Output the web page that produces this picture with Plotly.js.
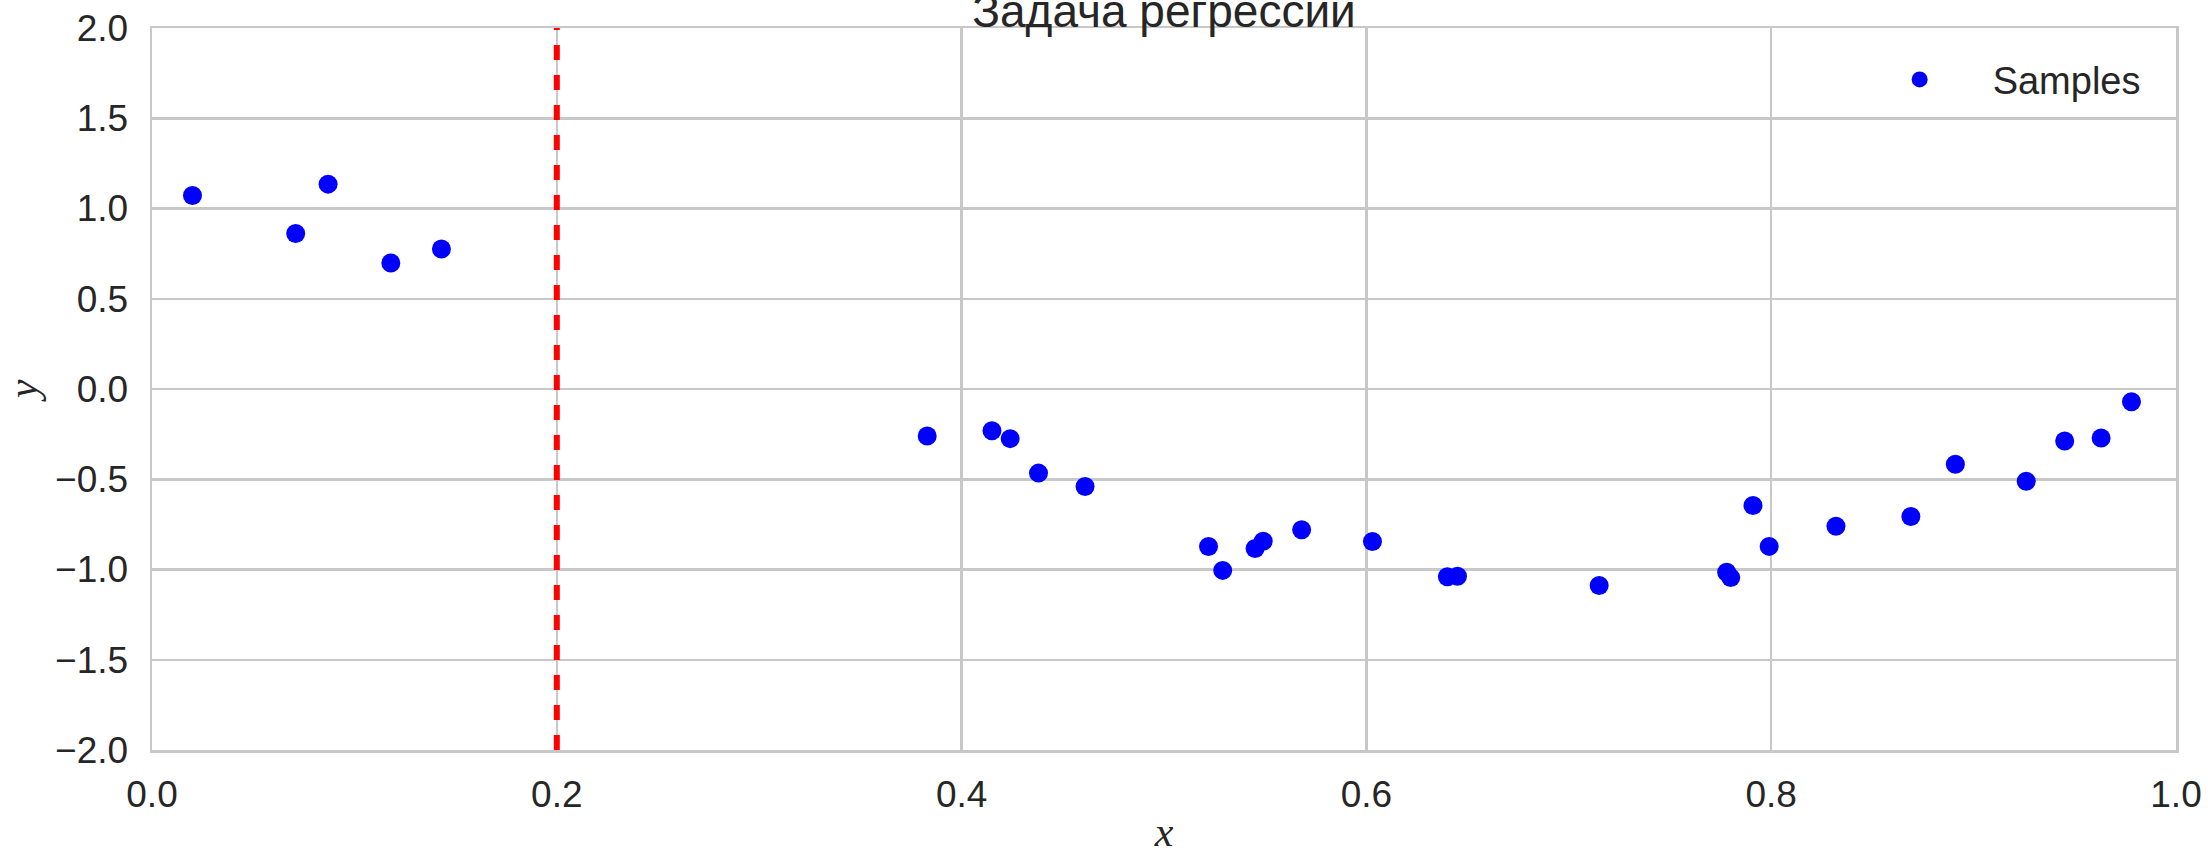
<!DOCTYPE html>
<html>
<head>
<meta charset="utf-8">
<script src="https://cdn.plot.ly/plotly-3.0.1.min.js"></script>
<style>html,body{margin:0;padding:0;background:#fff;}#chart{width:2208px;height:855px;}</style>
</head>
<body>
<div id="chart"></div>
<script>
const sampleX = [0.020, 0.071, 0.087, 0.118, 0.143, 0.383, 0.415, 0.424, 0.438, 0.461,
  0.522, 0.529, 0.545, 0.549, 0.568, 0.603, 0.640, 0.645, 0.715, 0.778,
  0.780, 0.791, 0.799, 0.832, 0.869, 0.891, 0.926, 0.945, 0.963, 0.978];
const sampleY = [1.072, 0.862, 1.135, 0.698, 0.776, -0.260, -0.231, -0.275, -0.466, -0.540,
  -0.873, -1.005, -0.884, -0.843, -0.780, -0.845, -1.040, -1.037, -1.089, -1.015,
  -1.045, -0.645, -0.872, -0.760, -0.706, -0.417, -0.511, -0.288, -0.271, -0.071];
const thresholdX = [0.2];
const xTickVals = [0.0, 0.2, 0.4, 0.6, 0.8, 1.0];
const xTickText = ["0.0", "0.2", "0.4", "0.6", "0.8", "1.0"];
const yTickVals = [-2.0, -1.5, -1.0, -0.5, 0.0, 0.5, 1.0, 1.5, 2.0];
const yTickText = ["\u22122.0", "\u22121.5", "\u22121.0", "\u22120.5", "0.0", "0.5", "1.0", "1.5", "2.0"];
const titleText = "Задача регрессии";
const seriesName = "Samples";

const textColor = "#262626";
const gridColor = "#c8c8c8";
const tickFont = {family: "Liberation Sans, Arial, sans-serif", size: 37, color: textColor};

const data = [{
  type: "scatter",
  mode: "markers",
  x: sampleX,
  y: sampleY,
  name: seriesName,
  marker: {color: "#0000ff", size: 19, line: {width: 0}},
  showlegend: true
}];

const layout = {
  width: 2208,
  height: 855,
  paper_bgcolor: "#ffffff",
  plot_bgcolor: "#ffffff",
  margin: {l: 152, r: 32, t: 28, b: 105, pad: 0},
  title: {
    text: titleText,
    font: {family: "Liberation Sans, Arial, sans-serif", size: 46, color: textColor},
    x: 0.5, xref: "paper", xanchor: "center",
    y: 0.968, yref: "container", yanchor: "bottom"
  },
  xaxis: {
    range: [0, 1],
    tickvals: xTickVals, ticktext: xTickText,
    tickfont: tickFont,
    ticks: "", ticklabelstandoff: 10,
    showgrid: true, gridcolor: gridColor, gridwidth: 2.5,
    zeroline: false,
    showline: true, linecolor: gridColor, linewidth: 2.5, mirror: true,
    title: {text: "<i>x</i>", font: {family: "Liberation Serif, DejaVu Serif, serif", size: 42, color: textColor}, standoff: 24},
    fixedrange: true
  },
  yaxis: {
    range: [-2, 2],
    tickvals: yTickVals, ticktext: yTickText,
    tickfont: tickFont,
    ticks: "", ticklabelstandoff: 14,
    showgrid: true, gridcolor: gridColor, gridwidth: 2.5,
    zeroline: false,
    showline: true, linecolor: gridColor, linewidth: 2.5, mirror: true,
    title: {text: "<i>y</i>", font: {family: "Liberation Serif, DejaVu Serif, serif", size: 42, color: textColor}, standoff: 12},
    fixedrange: true
  },
  showlegend: true,
  legend: {
    x: 0.985, y: 0.972, xanchor: "right", yanchor: "top",
    bgcolor: "rgba(0,0,0,0)", borderwidth: 0,
    font: {family: "Liberation Sans, Arial, sans-serif", size: 38, color: textColor},
    itemwidth: 136
  },
  shapes: thresholdX.map(v => ({
    type: "line", xref: "x", yref: "y",
    x0: v, x1: v, y0: -2, y1: 2,
    line: {color: "#ff0000", width: 6, dash: "15px,15px"},
    layer: "above"
  }))
};

Plotly.newPlot("chart", data, layout, {displayModeBar: false, staticPlot: true});
</script>
</body>
</html>
